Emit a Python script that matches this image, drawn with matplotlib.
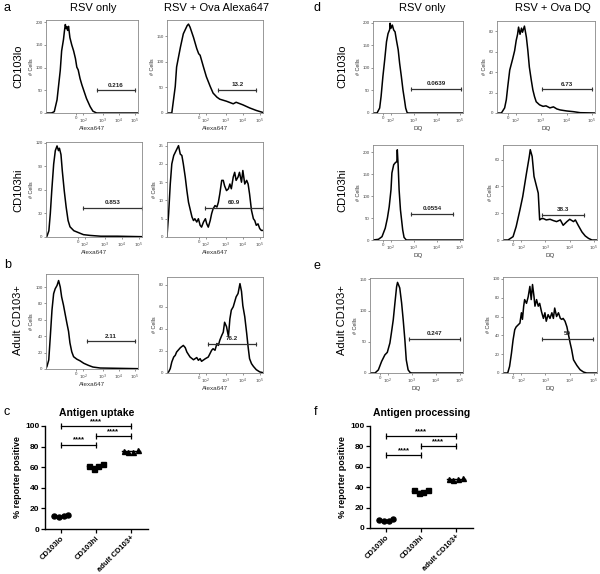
import matplotlib.pyplot as plt
import numpy as np

plt.rcParams['font.family'] = ['Liberation Sans', 'DejaVu Sans']

W, H = 600, 574

# ---- flow histograms: (channel 0-100, # cells) ----
# a, CD103lo
alo_rsv_ch = [0, 6, 9, 12, 15.5, 17, 19, 20, 21, 22, 22.7, 23.5, 24.5, 26, 28, 30, 32, 33.5, 35, 37, 39, 41, 44, 48, 51, 55, 100]
alo_rsv_n = [0, 0, 3, 29, 94, 137, 162, 180, 195, 186, 190, 182, 191, 166, 150, 137, 120, 101, 95, 76, 62, 50, 32, 14, 4, 0, 0]
alo_ova_ch = [0, 5, 8.6, 10, 14, 17, 21, 22.4, 24, 27.6, 31, 33, 34.5, 38, 41, 45, 48, 52, 55, 62, 69, 72, 79, 86, 93, 100]
alo_ova_n = [0, 0, 52, 90, 129, 155, 171, 174, 168, 148, 126, 116, 113, 90, 71, 52, 39, 31, 27, 23, 18, 21, 16, 10, 5, 1]
# a, CD103hi
ahi_rsv_ch = [0, 1, 3, 4.5, 6, 8, 9.7, 11.5, 13, 14, 15.6, 17, 19, 21, 23, 25, 29, 34, 39, 46, 57, 74, 100]
ahi_rsv_n = [0, 1, 8, 30, 59, 93, 110, 116, 110, 113, 105, 84, 59, 38, 21, 13, 8, 5.5, 3, 2, 1, 1, 0.4]
ahi_ova_ch = [0, 1.7, 3.4, 5, 7, 12, 13.8, 15.5, 17, 19, 20.7, 22.4, 24, 26, 27.6, 29, 31, 32.7, 34.5, 36, 38, 40, 41.4, 43, 45,
              46.5, 48, 50, 52, 53.5, 55, 57, 58.6, 60, 62, 64, 65.5, 67, 69, 70.5, 72, 74, 75.5, 77.6, 79, 81, 83, 84.5, 86,
              88, 90, 91.4, 93, 94.8, 96.6, 98.3, 100]
ahi_ova_n = [0.2, 6.4, 14.5, 20, 22.3, 25, 22.7, 22.3, 20, 16.4, 12.7, 9.5, 7.7, 5.5, 4.5, 5, 4.1, 5, 3.2, 2.7, 4.1, 5, 3.6,
             2.7, 4.5, 6.4, 7.7, 8.6, 8.2, 9.5, 11.8, 15.5, 15.5, 14, 12.7, 13.2, 14.5, 13.2, 16.4, 17.7, 15.5, 16.4, 17.7,
             15, 18.2, 14.5, 15.5, 14.5, 11.8, 7.3, 5, 4.5, 3.2, 3.6, 2.3, 1.8, 1.8]
# b, adult CD103+
bad_rsv_ch = [0, 1, 3, 4.7, 6.5, 8.3, 10, 12, 13.7, 15.5, 17, 19, 21, 22.7, 24.5, 26, 28, 30, 33.5, 37, 41, 46, 51, 59, 100]
bad_rsv_n = [1, 3, 11, 40, 72, 92, 98, 102, 108, 100, 88, 78, 66, 56, 46, 32, 21, 15, 12, 10, 7, 4.5, 2.4, 1.2, 0.4]
bad_ova_ch = [0, 1.7, 3.4, 5, 7, 8.6, 10, 14, 17, 19, 20.7, 24, 27.6, 31, 32.7, 34.5, 36, 40, 43, 46.5, 48, 50, 52, 53.5,
              55, 57, 58.6, 60, 62, 64, 65.5, 67, 69, 70.5, 72, 74, 76, 77.6, 79, 81, 83, 84.5, 86, 88, 90, 93, 96.6, 100]
bad_ova_n = [0, 1, 4, 10, 14.5, 16, 19, 23, 25, 23, 19, 14.5, 12, 14, 11.5, 13, 10.6, 13, 14.5, 20.6, 22, 20.6, 26.7, 25,
             29.7, 34, 37, 46, 42, 33, 49, 57, 60, 64.5, 69, 72, 81, 74, 61, 51, 36, 23.6, 13, 8.5, 6, 3, 1, 0.3]
# d, CD103lo
dlo_rsv_ch = [0, 4.5, 7.4, 9, 11, 13, 15, 16.7, 18.5, 19, 20, 21.5, 23, 24.5, 26, 28, 29.6, 31.5, 33.3, 35, 36.3, 37.8, 39, 100]
dlo_rsv_n = [0, 0, 11, 37, 81, 118, 158, 176, 185, 199, 188, 195, 184, 180, 162, 140, 110, 81, 51, 29, 11, 1.5, 0, 0]
dlo_ova_ch = [0, 4.5, 7.8, 9.5, 11, 13, 16, 18, 19.6, 21, 22, 23.5, 25, 26, 28, 30, 31.5, 33, 35, 36.6, 38.3, 40, 43.4, 47,
              50, 54, 57.6, 61, 64.4, 71, 78, 85, 100]
dlo_ova_n = [0, 0, 5, 13, 26, 42, 53, 61, 71, 77, 84, 77, 83, 79, 85, 74, 61, 45, 32, 22.6, 16, 11, 8, 6.5, 7, 5, 6, 4, 3,
             2, 1.3, 0.3, 0]
# d, CD103hi
dhi_rsv_ch = [0, 6, 10, 13.6, 16, 18, 20, 21, 23, 25, 26.5, 27, 28, 29, 30.5, 33, 34.5, 37, 100]
dhi_rsv_n = [0, 1.5, 7.6, 27, 50, 76, 115, 153, 172, 177, 179, 206, 168, 115, 69, 23, 6, 0, 0]
dhi_ova_ch = [0, 5.4, 10.7, 14, 18, 21, 25, 28, 29, 31, 33, 35.7, 37.5, 39, 41, 43, 46, 50, 53.6, 57, 61, 64, 68, 71, 75,
              77, 80, 84, 87.5, 91, 94.6, 100]
dhi_ova_n = [0, 0, 2.5, 10, 22.5, 32.5, 50, 62.5, 67.5, 62.5, 47.5, 40, 35, 15, 16, 16, 15, 15.5, 14.5, 13.75, 15, 11,
             13.75, 15.5, 13.75, 15, 11, 6, 3, 1.2, 0, 0]
# e, adult CD103+
ead_rsv_ch = [0, 5.4, 9, 12.5, 16, 18.6, 21.4, 23, 25, 26.8, 28.6, 29.6, 30.7, 32, 34, 35.7, 37.5, 39, 41, 43, 44.6, 100]
ead_rsv_n = [0, 0, 5, 18.6, 29, 33, 48, 64, 85, 112, 138, 145, 141, 136, 112, 85, 53, 21, 5, 1, 0, 0]
ead_ova_ch = [0, 5, 7, 9, 10.7, 12.5, 14, 16, 18, 19.6, 20.7, 22, 23, 25, 26.8, 28.6, 30, 31.4, 33, 34, 35.7, 37.5, 39,
              41, 43, 44.6, 46, 48, 50, 52, 53.6, 55, 57, 59, 61, 62.5, 64, 66, 68, 70, 71.4, 73, 75, 78.6, 82, 85.7, 89, 100]
ead_ova_n = [0, 0, 7, 21, 35, 46, 49, 51, 53, 64, 57, 71, 78, 74, 81, 92, 78, 94, 81, 71, 78, 71, 74, 65, 58, 64, 55, 62,
             58, 64, 58, 69, 60, 64, 58, 57, 58, 55, 49, 39, 32, 25, 14, 8, 3.5, 1, 0, 0]

# x tick labels of the biexponential scales
alexa_tick_ch = [33, 40.5, 61.5, 79, 96.5]
dq_tick_ch = [11, 19.5, 45, 71, 96.5]
decade_labels = ['0', '$10^2$', '$10^3$', '$10^4$', '$10^5$']

# ---- antigen uptake / processing (% reporter positive) ----
groups = ['CD103lo', 'CD103hi', 'adult CD103+']
uptake_lo = [13, 12, 13, 14]
uptake_hi = [61, 58, 61, 63]
uptake_ad = [76, 75, 75, 77]
process_lo = [7.5, 6.5, 7, 8.5]
process_hi = [37, 34.5, 35.5, 37.5]
process_ad = [48.5, 47, 48, 49.5]
uptake_brackets = [(0, 1, 82), (1, 2, 90), (0, 2, 100)]
process_brackets = [(0, 1, 72), (1, 2, 80), (0, 2, 90)]

fig = plt.figure(figsize=(W / 100, H / 100), dpi=100)


def px(x0, y0, x1, y1):
    return [x0 / W, 1 - y1 / H, (x1 - x0) / W, (y1 - y0) / H]


def flow(box, ch, n, ymax, ystep, gate, gy, glab, ticks, xlab):
    ax = fig.add_axes(px(*box))
    ax.plot(ch, n, color='black', lw=1.1)
    ax.set_xlim(0, 100)
    ax.set_ylim(0, ymax)
    ax.set_yticks(np.arange(0, ymax + 0.01, ystep))
    ax.set_xticks(ticks)
    ax.set_xticklabels(decade_labels)
    ax.tick_params(labelsize=3.2, length=1.5, width=0.4, pad=1, colors='#444444')
    for s in ax.spines.values():
        s.set_color('#888888')
        s.set_linewidth(0.6)
    ax.plot(gate, [gy, gy], color='#333333', lw=0.9)
    ax.plot(gate, [gy, gy], ls='none', marker='|', ms=3, mew=0.8, color='#333333')
    ax.text(sum(gate) / 2, gy + ymax * 0.03, glab, ha='center', va='bottom',
            fontsize=4.5, fontweight='bold', color='#222222')
    ax.set_xlabel(xlab, fontsize=4.5, labelpad=0.5, color='#333333')
    ax.set_ylabel('# Cells', fontsize=4, labelpad=1, color='#333333')
    return ax


flow((46, 20, 138, 113), alo_rsv_ch, alo_rsv_n, 205, 50, (55, 96.5), 50, '0.216', alexa_tick_ch, 'Alexa647')
flow((167, 20, 263, 113), alo_ova_ch, alo_ova_n, 182, 50, (53.5, 93), 45, '13.2', alexa_tick_ch, 'Alexa647')
flow((46, 142, 142, 237), ahi_rsv_ch, ahi_rsv_n, 121, 30, (39, 100), 37, '0.853', alexa_tick_ch, 'Alexa647')
flow((167, 142, 263, 237), ahi_ova_ch, ahi_ova_n, 26, 5, (40, 100), 7.9, '60.9', alexa_tick_ch, 'Alexa647')
flow((46, 274, 138, 369), bad_rsv_ch, bad_rsv_n, 116, 20, (45, 96.5), 33.6, '2.11', alexa_tick_ch, 'Alexa647')
flow((167, 277, 263, 373), bad_ova_ch, bad_ova_n, 87, 20, (43, 93), 26, '76.2', alexa_tick_ch, 'Alexa647')

flow((373, 21, 463, 113), dlo_rsv_ch, dlo_rsv_n, 204, 50, (42, 98), 53, '0.0639', dq_tick_ch, 'DQ')
flow((497, 21, 595, 113), dlo_ova_ch, dlo_ova_n, 90, 20, (45.8, 96.6), 23, '6.73', dq_tick_ch, 'DQ')
flow((373, 145, 463, 240), dhi_rsv_ch, dhi_rsv_n, 217, 50, (42, 89), 59.5, '0.0554', dq_tick_ch, 'DQ')
flow((503, 145, 597, 240), dhi_ova_ch, dhi_ova_n, 71, 20, (41, 86.4), 19, '38.3', dq_tick_ch, 'DQ')
flow((370, 278, 463, 373), ead_rsv_ch, ead_rsv_n, 152, 50, (41.8, 96.4), 55, '0.247', dq_tick_ch, 'DQ')
flow((503, 277, 597, 373), ead_ova_ch, ead_ova_n, 102, 20, (41, 95.3), 36, '50', dq_tick_ch, 'DQ')


def dots(box, lo, hi, ad, brackets, title):
    ax = fig.add_axes(px(*box))
    offs = [-0.2, -0.07, 0.07, 0.2]
    for i, (vals, mk) in enumerate(zip([lo, hi, ad], ['o', 's', '^'])):
        ax.plot([i + o for o in offs[:len(vals)]], vals, ls='none', marker=mk, ms=3.6, color='black')
        m = np.mean(vals)
        ax.plot([i - 0.25, i + 0.25], [m, m], color='black', lw=1.0)
    for a, b, y in brackets:
        ax.plot([a, b], [y, y], color='black', lw=0.9, clip_on=False)
        ax.plot([a, b], [y, y], ls='none', marker='|', ms=4, mew=0.9, color='black', clip_on=False)
        ax.text((a + b) / 2, y + 0.8, '****', ha='center', va='bottom', fontsize=5.5, fontweight='bold')
    ax.set_xlim(-0.46, 2.49)
    ax.set_ylim(0, 100)
    ax.set_yticks(range(0, 101, 20))
    ax.set_xticks(range(3))
    ax.set_xticklabels(groups, rotation=45, ha='right', rotation_mode='anchor', fontsize=5.5, fontweight='bold')
    ax.tick_params(axis='y', labelsize=6, width=0.9, length=3, pad=1)
    ax.tick_params(axis='x', width=0.9, length=3, pad=1)
    for lab in ax.get_yticklabels():
        lab.set_fontweight('bold')
    ax.spines[['top', 'right']].set_visible(False)
    ax.spines[['left', 'bottom']].set_linewidth(1.0)
    ax.set_ylabel('% reporter positive', fontsize=6.5, fontweight='bold', labelpad=2)
    ax.set_title(title, fontsize=7.5, fontweight='bold', pad=7)


dots((45, 426, 148, 529), uptake_lo, uptake_hi, uptake_ad, uptake_brackets, 'Antigen uptake')
dots((370, 426, 473, 528), process_lo, process_hi, process_ad, process_brackets, 'Antigen processing')

# panel letters, column and row headers
for lab, x, y in [('a', 4, 8), ('b', 4, 265), ('c', 4, 412), ('d', 314, 8), ('e', 314, 266), ('f', 314, 412)]:
    fig.text(x / W, 1 - y / H, lab, fontsize=9, va='center', ha='left')
for lab, x in [('RSV only', 93), ('RSV + Ova Alexa647', 216), ('RSV only', 422), ('RSV + Ova DQ', 553)]:
    fig.text(x / W, 1 - 8 / H, lab, fontsize=8, va='center', ha='center')
for lab, y in [('CD103lo', 66), ('CD103hi', 190), ('Adult CD103+', 320)]:
    fig.text(18 / W, 1 - y / H, lab, fontsize=8, va='center', ha='center', rotation=90)
    fig.text(342 / W, 1 - y / H, lab, fontsize=8, va='center', ha='center', rotation=90)

fig.savefig('out.png', dpi=100)
